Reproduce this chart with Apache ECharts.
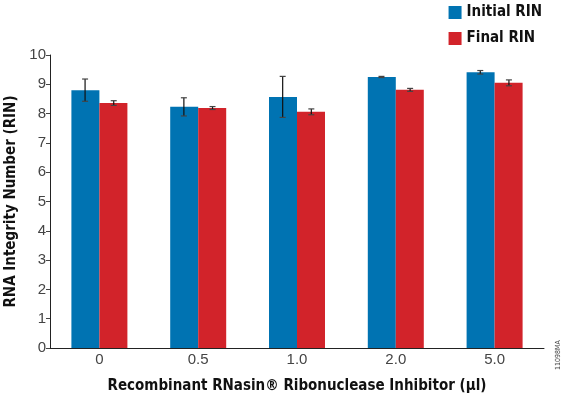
<!DOCTYPE html>
<html>
<head>
<meta charset="utf-8">
<script src="https://cdn.jsdelivr.net/npm/echarts@6/dist/echarts.min.js"></script>
<style>
  html, body { margin: 0; padding: 0; background: #fff; }
  #chart { width: 564px; height: 398px; }
</style>
</head>
<body>
<div id="chart"></div>
<script>
const categories = ['0', '0.5', '1.0', '2.0', '5.0']
const initialRin = [8.8, 8.23, 8.57, 9.25, 9.41]
const initialErr = [0.38, 0.31, 0.7, 0.02, 0.06]
const finalRin = [8.36, 8.19, 8.06, 8.81, 9.05]
const finalErr = [0.08, 0.05, 0.1, 0.05, 0.1]

const BLUE = '#0073b2'
const RED = '#d2232a'
const condensed = '"DejaVu Sans Condensed", "Liberation Sans Narrow", Arial, sans-serif'

// error bar series, shifted to the left / right bar of each pair
function errorSeries (values, errs, shift) {
  return {
    type: 'custom',
    z: 10,
    data: values.map((v, i) => [i, v - errs[i], v + errs[i]]),
    renderItem (params, api) {
      const lo = api.coord([api.value(0), api.value(1)])
      const hi = api.coord([api.value(0), api.value(2)])
      const bw = api.size([1, 0])[0]
      const x = lo[0] + shift * bw
      const cap = 3
      return {
        type: 'group',
        children: [
          { type: 'line', shape: { x1: x, y1: hi[1], x2: x, y2: lo[1] }, style: { stroke: '#111', lineWidth: 1.2 } },
          { type: 'line', shape: { x1: x - cap, y1: hi[1], x2: x + cap, y2: hi[1] }, style: { stroke: '#444', lineWidth: 1.2 } },
          { type: 'line', shape: { x1: x - cap, y1: lo[1], x2: x + cap, y2: lo[1] }, style: { stroke: '#444', lineWidth: 1.2 } }
        ]
      }
    }
  }
}

const chart = echarts.init(document.getElementById('chart'))
chart.setOption({
  animation: false,
  grid: { left: 50, right: 20, top: 55, bottom: 50, outerBoundsMode: 'none', containLabel: false },
  legend: {
    right: 17,
    top: 0,
    orient: 'vertical',
    align: 'left',
    itemWidth: 13,
    itemHeight: 13,
    itemGap: 11,
    icon: 'rect',
    textStyle: { fontFamily: condensed, fontWeight: 'bold', fontSize: 15, color: '#111' },
    data: ['Initial RIN', 'Final RIN']
  },
  xAxis: {
    type: 'category',
    data: categories,
    name: 'Recombinant RNasin® Ribonuclease Inhibitor (µl)',
    nameLocation: 'middle',
    nameGap: 31,
    nameTextStyle: { fontFamily: condensed, fontWeight: 'bold', fontSize: 15, color: '#111' },
    axisLine: { lineStyle: { color: '#222', width: 1 } },
    axisTick: { length: 4, lineStyle: { color: '#444' } },
    axisLabel: { fontFamily: 'Liberation Sans, Arial, sans-serif', fontSize: 15, color: '#444', margin: 4 }
  },
  yAxis: {
    type: 'value',
    min: 0,
    max: 10,
    interval: 1,
    name: 'RNA Integrity Number (RIN)',
    nameLocation: 'middle',
    nameGap: 29,
    nameTextStyle: { fontFamily: condensed, fontWeight: 'bold', fontSize: 15, color: '#111' },
    splitLine: { show: false },
    axisLine: { show: true, lineStyle: { color: '#222', width: 1 } },
    axisTick: { show: true, length: 4, lineStyle: { color: '#444' } },
    axisLabel: { fontFamily: 'Liberation Sans, Arial, sans-serif', fontSize: 15, color: '#444', margin: 4 }
  },
  series: [
    {
      name: 'Initial RIN',
      type: 'bar',
      data: initialRin,
      barWidth: 28,
      barGap: '0%',
      itemStyle: { color: BLUE }
    },
    {
      name: 'Final RIN',
      type: 'bar',
      data: finalRin,
      barWidth: 28,
      barGap: '0%',
      itemStyle: { color: RED }
    },
    errorSeries(initialRin, initialErr, -0.145),
    errorSeries(finalRin, finalErr, 0.145)
  ],
  graphic: [
    {
      type: 'text',
      x: 555,
      y: 370,
      rotation: Math.PI / 2,
      style: { text: '11098MA', font: '7px "DejaVu Sans Condensed", Arial', fill: '#444' }
    }
  ]
})
</script>
</body>
</html>
